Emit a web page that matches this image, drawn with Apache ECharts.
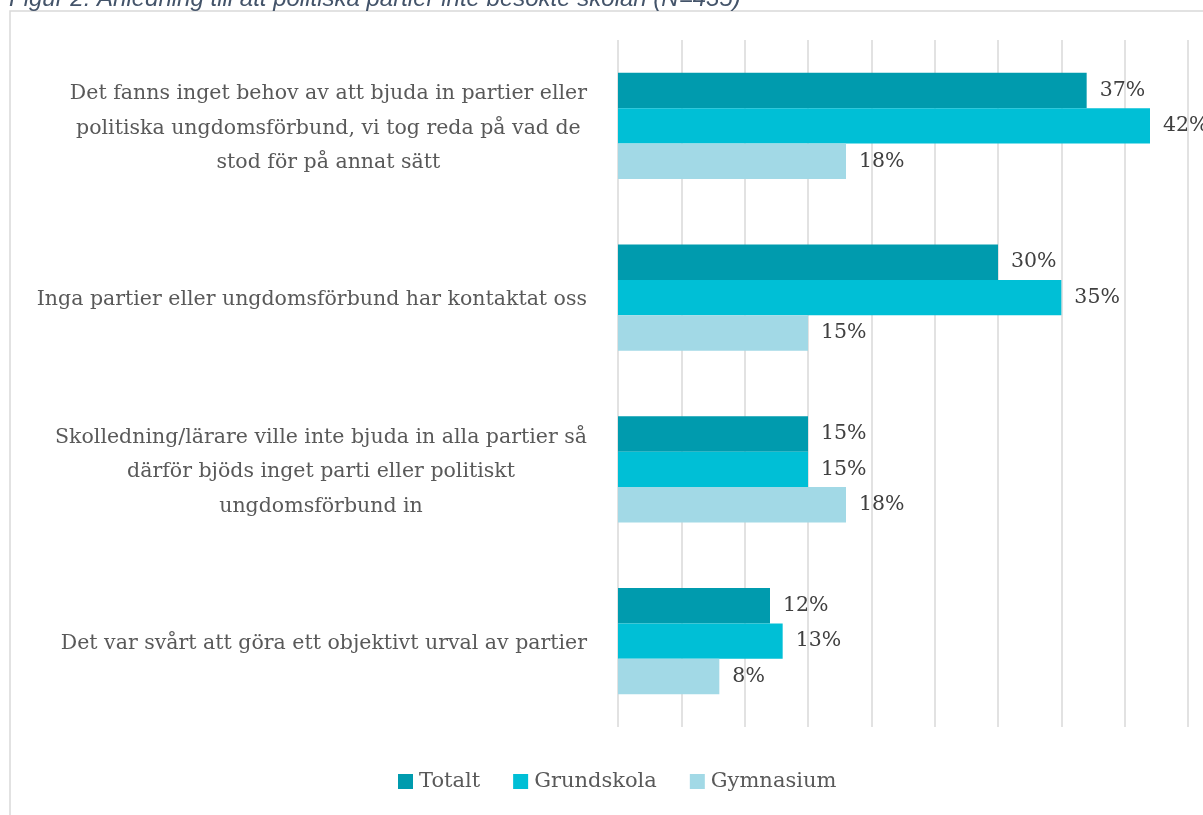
<!DOCTYPE html>
<html>
<head>
<meta charset="utf-8">
<script src="https://cdn.jsdelivr.net/npm/echarts@6/dist/echarts.min.js"></script>
<style>
html,body{margin:0;padding:0;background:#fff;}
#chart{width:1203px;height:815px;}
</style>
</head>
<body>
<div id="chart"></div>
<script>
const categories = [
  "Det fanns inget behov av att bjuda in partier eller\npolitiska ungdomsförbund, vi tog reda på vad de\nstod för på annat sätt",
  "Inga partier eller ungdomsförbund har kontaktat oss",
  "Skolledning/lärare ville inte bjuda in alla partier så\ndärför bjöds inget parti eller politiskt\nungdomsförbund in",
  "Det var svårt att göra ett objektivt urval av partier"
];
const seriesNames = ["Totalt", "Grundskola", "Gymnasium"];
const totalt = [37, 30, 15, 12];
const grundskola = [42, 35, 15, 13];
const gymnasium = [18, 15, 18, 8];
const titleText = "Figur 2: Anledning till att politiska partier inte besökte skolan (N=435)";

const SERIF = "'DejaVu Serif', serif";
const colors = ["#009BAE", "#00BFD6", "#A2D9E6"];
const chart = echarts.init(document.getElementById('chart'), null, {renderer: 'canvas'});

function mkSeries(name, data, color) {
  return {
    name: name,
    type: 'bar',
    data: data,
    barGap: '0%',
    barCategoryGap: '38%',
    itemStyle: {color: color},
    label: {
      show: true,
      position: 'right',
      distance: 13,
      formatter: p => p.value + '%',
      fontFamily: SERIF,
      fontSize: 20.5,
      color: '#404040'
    },
    emphasis: {disabled: true}
  };
}

chart.setOption({
  animation: false,
  color: colors,
  grid: {left: 618, right: 15, top: 40, bottom: 88, containLabel: false},
  xAxis: {
    type: 'value',
    min: 0, max: 45, interval: 5,
    axisLabel: {show: false},
    axisLine: {show: false},
    axisTick: {show: false},
    splitLine: {show: true, lineStyle: {color: '#D9D9D9', width: 1.5}}
  },
  yAxis: {
    type: 'category',
    data: categories,
    inverse: true,
    axisLine: {show: false},
    axisTick: {show: false},
    axisLabel: {
      margin: 31,
      align: 'right',
      padding: [5, 0, 0, 0],
      formatter: v => v.split('\n').map(l => '{c|' + l + '}').join('\n'),
      rich: {
        c: {align: 'center', fontFamily: SERIF, fontSize: 20.5, color: '#595959', lineHeight: 34.5}
      }
    }
  },
  legend: {
    data: seriesNames,
    top: 766,
    left: 393,
    icon: 'rect',
    itemWidth: 15,
    itemHeight: 15,
    itemGap: 33,
    textStyle: {fontFamily: SERIF, fontSize: 21, color: '#595959', padding: [0, 0, 0, 1]}
  },
  graphic: [
    {type: 'rect', silent: true, z: -1, shape: {x: 10, y: 11, width: 1400, height: 1000}, style: {fill: 'none', stroke: '#D9D9D9', lineWidth: 1.5}},
    {type: 'text', silent: true, style: {x: 9, y: -1, text: titleText, verticalAlign: 'middle', font: "italic 24px 'Liberation Sans', Arial, sans-serif", fill: '#44546A'}}
  ],
  series: [
    mkSeries(seriesNames[0], totalt, colors[0]),
    mkSeries(seriesNames[1], grundskola, colors[1]),
    mkSeries(seriesNames[2], gymnasium, colors[2])
  ]
});
</script>
</body>
</html>
